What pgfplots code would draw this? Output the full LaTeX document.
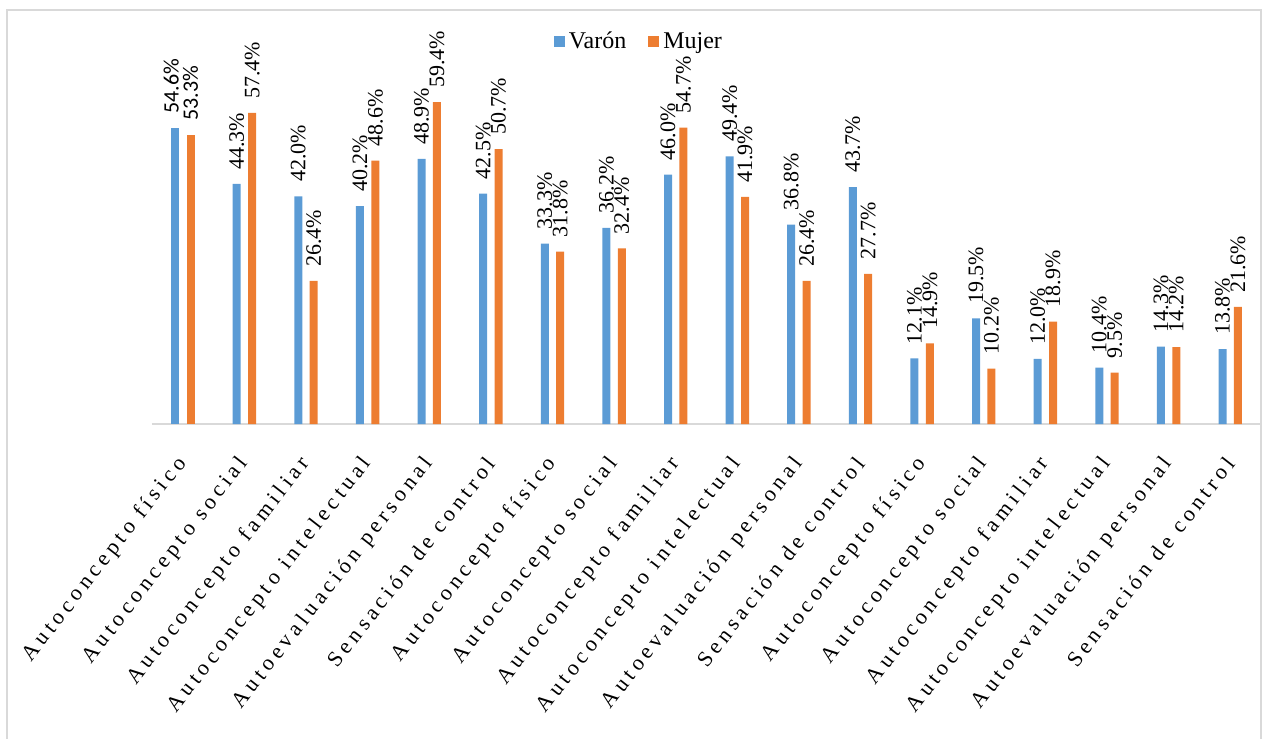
\documentclass[border=0pt]{standalone}
\usepackage{fontspec}
\setmainfont{Liberation Serif}
\newfontfamily\serif{Liberation Serif}
\newfontfamily\spaced[LetterSpace=20]{Liberation Serif}
\newfontfamily\carl{Carlito}
\usepackage{pgfplots}
\usepackage{pgfplotstable}
\pgfplotsset{compat=1.18}
\definecolor{cblue}{HTML}{5B9BD5}
\definecolor{corange}{HTML}{ED7D31}
\definecolor{frame}{HTML}{D9D9D9}
\pgfplotstableread{
idx varon mujer
1 44.3 57.4
2 42.0 26.4
3 40.2 48.6
4 48.9 59.4
5 42.5 50.7
6 33.3 31.8
7 36.2 32.4
8 46.0 54.7
9 49.4 41.9
10 36.8 26.4
11 43.7 27.7
12 12.1 14.9
13 19.5 10.2
14 12.0 18.9
15 10.4 9.5
16 14.3 14.2
17 13.8 21.6
}\datatab
\pgfplotstableread{
idx varon mujer
0 54.6 53.3
}\firsttab
\begin{document}
\begin{tikzpicture}
\path[use as bounding box] (-76pt,-157pt) rectangle (557.5pt,212pt);
\draw[frame, line width=0.75pt] (-72.5pt,-170pt) rectangle (554.5pt,207pt);
\begin{axis}[
  at={(0,0)}, anchor=south west,
  scale only axis,
  width=554.5pt, height=195.1pt,
  xmin=-0.5, xmax=17.5, ymin=0, ymax=72,
  ybar, bar width=4pt,
  axis x line=bottom, axis y line=none,
  axis line style={draw=frame, line width=0.75pt, -},
  xtick={0,...,17},
  xticklabels={Autoconcepto físico, Autoconcepto social, Autoconcepto familiar, Autoconcepto intelectual, Autoevaluación personal, Sensación de control, Autoconcepto físico, Autoconcepto social, Autoconcepto familiar, Autoconcepto intelectual, Autoevaluación personal, Sensación de control, Autoconcepto físico, Autoconcepto social, Autoconcepto familiar, Autoconcepto intelectual, Autoevaluación personal, Sensación de control},
  major tick length=0pt,
  xticklabel style={font=\spaced\fontsize{11}{12}\selectfont, yshift=-18pt, xshift=0pt, rotate=52, anchor=east, inner sep=0pt},
  ytick=\empty,
  clip=false,
  legend columns=2,
  legend style={at={(0.44,0.979)}, anchor=center, draw=none, fill=none,
    font=\serif\fontsize{12}{14}\selectfont,
    /tikz/every even column/.append style={column sep=9pt}},
  legend image code/.code={\fill[#1,draw=none] (0pt,-2.75pt) rectangle (5.5pt,2.75pt);},
  every node near coord/.append style={rotate=90, anchor=west, inner xsep=7pt, inner ysep=0pt, font=\fontsize{11}{13}\selectfont, text=black},
]
\addplot[fill=cblue, draw=none, bar shift=-3.85pt,
  nodes near coords={\serif\pgfmathprintnumber[fixed,fixed zerofill,precision=1,assume math mode=true]{\pgfplotspointmeta}\%}] table[x=idx, y=varon] {\datatab};
\addplot[fill=corange, draw=none, bar shift=3.85pt,
  nodes near coords={\serif\pgfmathprintnumber[fixed,fixed zerofill,precision=1,assume math mode=true]{\pgfplotspointmeta}\%}] table[x=idx, y=mujer] {\datatab};
\addplot[fill=cblue, draw=none, bar shift=-3.85pt, forget plot,
  nodes near coords={\hspace*{0pt}\raisebox{4pt}{\carl\pgfmathprintnumber[fixed,fixed zerofill,precision=1,assume math mode=true]{\pgfplotspointmeta}\%}}] table[x=idx, y=varon] {\firsttab};
\addplot[fill=corange, draw=none, bar shift=3.85pt, forget plot,
  nodes near coords={\carl\pgfmathprintnumber[fixed,fixed zerofill,precision=1,assume math mode=true]{\pgfplotspointmeta}\%}] table[x=idx, y=mujer] {\firsttab};
\legend{Varón, Mujer}
\end{axis}
\end{tikzpicture}
\end{document}
